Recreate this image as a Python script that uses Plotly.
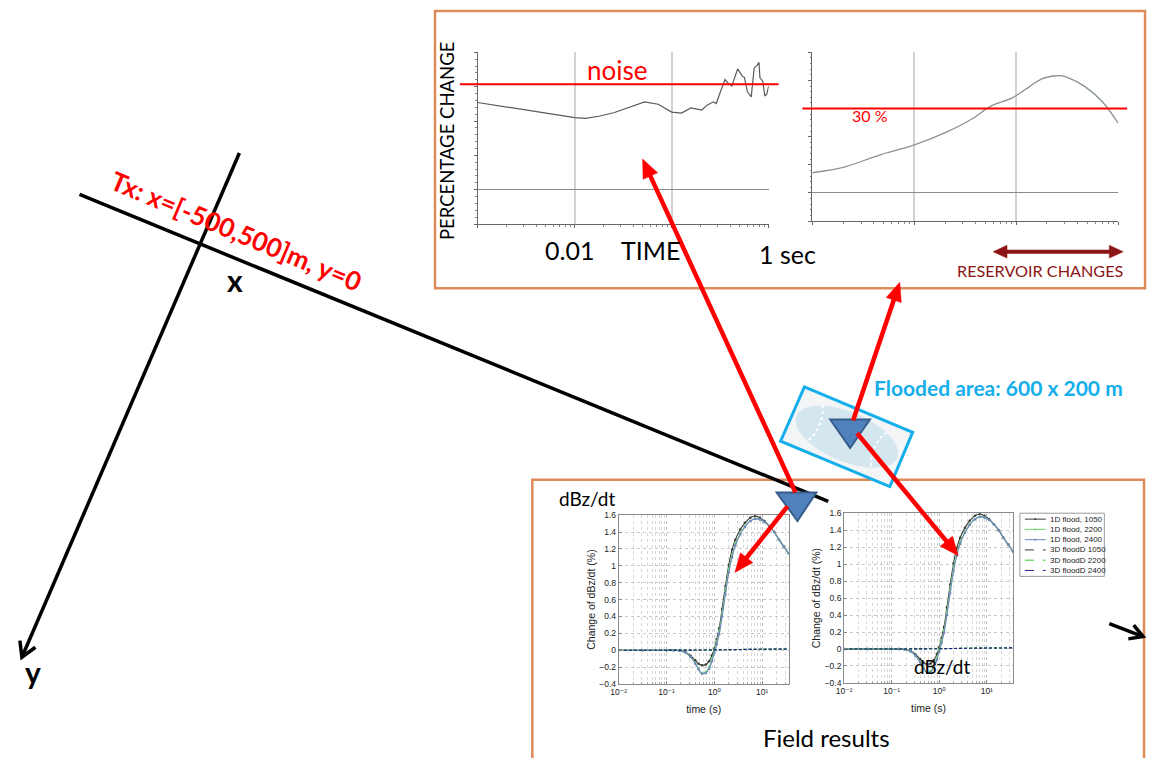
import numpy as np
import plotly.graph_objects as go

W, H = 1150, 758

# ---------------- data ----------------
# top-left panel: percentage change vs time (noise level reference)
pct_time = [0.001, 0.00178, 0.00309, 0.00562, 0.01, 0.0129, 0.0178, 0.0257, 0.0372, 0.0525,
            0.0724, 0.1, 0.126, 0.158, 0.204, 0.234, 0.269, 0.288, 0.316, 0.355,
            0.380, 0.417, 0.479, 0.537, 0.562, 0.603, 0.661, 0.708, 0.759, 0.794,
            0.813, 0.871, 0.912, 0.955, 1.0]
pct_change = [2.54, 2.43, 2.32, 2.20, 2.10, 2.08, 2.14, 2.25, 2.42, 2.56,
              2.49, 2.26, 2.23, 2.38, 2.32, 2.47, 2.56, 2.51, 2.83, 3.21,
              3.11, 3.02, 3.52, 3.30, 3.27, 2.86, 2.70, 3.54, 3.62, 3.71,
              3.26, 3.16, 2.73, 2.78, 3.02]
noise_level = 3.07

# top-right panel: reservoir change vs time
res_time = [0.001, 0.00209, 0.00447, 0.0102, 0.0214, 0.0363, 0.0562, 0.0912, 0.138, 0.178,
            0.234, 0.269, 0.316, 0.468, 0.692, 1.0]
res_change = [7.2, 9.3, 13.4, 17.2, 21.9, 26.2, 30.9, 33.8, 38.1, 40.6,
              41.6, 41.7, 41.1, 37.9, 32.6, 24.8]
threshold_pct = 30

# bottom panels: change of dBz/dt (%) vs time (s)
field_time = [0.01, 0.0316, 0.1, 0.141, 0.186, 0.251, 0.316, 0.398, 0.468, 0.55,
              0.661, 0.776, 0.891, 1.0, 1.12, 1.26, 1.45, 1.70, 2.0, 2.34,
              2.75, 3.47, 4.37, 5.62, 7.08, 8.91, 11.2, 14.1, 17.8, 22.4,
              28.2, 35.5]
flood1d_1050 = [0, 0, 0, 0, -0.004, -0.025, -0.065, -0.12, -0.16, -0.18,
                -0.17, -0.13, -0.06, 0.02, 0.13, 0.26, 0.49, 0.76, 1.01, 1.19,
                1.31, 1.43, 1.51, 1.57, 1.59, 1.57, 1.53, 1.47, 1.40, 1.31,
                1.23, 1.15]
flood1d_2200 = [0, 0, 0, 0, -0.005, -0.03, -0.08, -0.15, -0.22, -0.27,
                -0.26, -0.20, -0.10, -0.01, 0.10, 0.22, 0.44, 0.70, 0.96, 1.13,
                1.26, 1.38, 1.47, 1.53, 1.56, 1.55, 1.52, 1.47, 1.40, 1.31,
                1.23, 1.15]
flood1d_2400 = [0, 0, 0, 0, -0.005, -0.03, -0.08, -0.16, -0.23, -0.28,
                -0.27, -0.22, -0.13, -0.03, 0.07, 0.19, 0.40, 0.66, 0.92, 1.10,
                1.24, 1.37, 1.46, 1.53, 1.555, 1.55, 1.52, 1.47, 1.40, 1.31,
                1.23, 1.15]
field_time_3d = [0.01, 0.1, 0.3, 1, 3, 10, 35.5]
flood3d_1050 = [0, 0, 0.001, 0.004, 0.008, 0.012, 0.015]
flood3d_2200 = [0, 0, 0.001, 0.004, 0.008, 0.012, 0.014]
flood3d_2400 = [0, 0, 0.001, 0.003, 0.007, 0.011, 0.013]

series_names = ["1D flood, 1050", "1D flood, 2200", "1D flood, 2400",
                "3D floodD 1050", "3D floodD 2200", "3D floodD 2400"]
field_tickvals = [0.01, 0.1, 1, 10]
field_ticktext = ["10\u207b\u00b2", "10\u207b\u00b9", "10\u2070", "10\u00b9"]

# ---------------- helpers (pixel -> paper) ----------------
def X(p):
    return p / W

def Y(p):
    return 1 - p / H

def path_from(points, close=False):
    s = "M " + " L ".join(f"{X(a):.5f},{Y(b):.5f}" for a, b in points)
    return s + (" Z" if close else "")

def chevron(tail, tip, length=17, ang=30):
    t = np.array(tip, float)
    d = t - np.array(tail, float)
    d = d / np.linalg.norm(d)
    back = -d
    pts = []
    for s in (ang, -ang):
        r = np.radians(s)
        rot = np.array([back[0] * np.cos(r) - back[1] * np.sin(r),
                        back[0] * np.sin(r) + back[1] * np.cos(r)])
        pts.append(tuple(t + length * rot))
    return path_from([pts[0], tuple(t), pts[1]])

ORANGE = "#DE8B5A"
RED = "#FF0000"
DARKRED = "#8C1515"
CYAN = "#14AEEA"
SLIDE_FONT = "Lato"
PLOT_FONT = "Liberation Sans, Arial, DejaVu Sans"

fig = go.Figure()

# ---------------- traces ----------------
fig.add_trace(go.Scatter(x=pct_time, y=pct_change, xaxis="x", yaxis="y", mode="lines",
                         line=dict(color="#5a5a5a", width=1.2), hoverinfo="skip"))
fig.add_trace(go.Scatter(x=res_time, y=res_change, xaxis="x2", yaxis="y2", mode="lines",
                         line=dict(color="#8a9393", width=1.3, shape="spline"), hoverinfo="skip"))

styles = [
    (field_time, flood1d_1050, "#3a3a3a", "solid", True),
    (field_time, flood1d_2200, "#6fd86f", "solid", True),
    (field_time, flood1d_2400, "#6f86c0", "solid", True),
    (field_time_3d, flood3d_1050, "#3a3a3a", "3px,2px", False),
    (field_time_3d, flood3d_2200, "#33cc33", "3px,2px", False),
    (field_time_3d, flood3d_2400, "#1c1c8c", "3px,2px", False),
]
for xa, ya in (("x3", "y3"), ("x4", "y4")):
    for (tx, vals, col, dash, mk), name in zip(styles, series_names):
        fig.add_trace(go.Scatter(
            x=tx, y=vals, xaxis=xa, yaxis=ya, name=name,
            mode="lines+markers" if mk else "lines",
            line=dict(color=col, width=1.1, dash=dash, shape="spline"),
            marker=dict(size=2.5, color=col), hoverinfo="skip"))

# ---------------- axes ----------------
def top_x(dom):
    return dict(domain=dom, type="log", range=[-3, 0], dtick=1, showticklabels=False,
                showgrid=True, gridcolor="#d2d2d2", gridwidth=1.5, zeroline=False,
                showline=True, linecolor="#666", linewidth=1, ticks="outside", ticklen=3,
                tickcolor="#666", minor=dict(ticks="outside", ticklen=1.5, tickcolor="#888", dtick="D1"),
                fixedrange=True)

def top_y(dom, rng, dt):
    return dict(domain=dom, range=rng, dtick=dt, showticklabels=False, showgrid=False,
                zeroline=True, zerolinecolor="#8c8c8c", zerolinewidth=1.3,
                showline=True, linecolor="#666", linewidth=1, ticks="outside", ticklen=3,
                tickcolor="#666", minor=dict(ticks="outside", ticklen=1.5, tickcolor="#888", dtick=dt / 5),
                fixedrange=True)

minor_vals = [m * 10.0 ** e for e in (-2, -1, 0, 1) for m in range(2, 10) if m * 10.0 ** e < 40]

def bot_x(dom):
    return dict(domain=dom, type="log", range=[-2, 1.55], tickmode="array",
                tickvals=field_tickvals, ticktext=field_ticktext,
                tickfont=dict(family=PLOT_FONT, size=8.5, color="#222"),
                showline=True, mirror=True, linecolor="#8a8a8a", linewidth=1,
                ticks="inside", ticklen=3, tickcolor="#888",
                showgrid=True, gridcolor="#c4c4c4", griddash="dot", gridwidth=1,
                minor=dict(tickmode="array", tickvals=minor_vals, showgrid=True, gridcolor="#d8d8d8",
                           griddash="dot", gridwidth=1, ticks="inside", ticklen=2, tickcolor="#aaa"),
                zeroline=False, fixedrange=True,
                title=dict(text="time (s)", font=dict(family=PLOT_FONT, size=10.5, color="#222"), standoff=9))

def bot_y(dom):
    return dict(domain=dom, range=[-0.4, 1.6], dtick=0.2, tick0=0,
                tickfont=dict(family=PLOT_FONT, size=8.5, color="#222"),
                showline=True, mirror=True, linecolor="#8a8a8a", linewidth=1,
                ticks="inside", ticklen=3, tickcolor="#888",
                showgrid=True, gridcolor="#c8c8c8", griddash="dot", gridwidth=1,
                zeroline=False, fixedrange=True,
                title=dict(text="Change of dBz/dt (%)", font=dict(family=PLOT_FONT, size=10.5, color="#222"),
                           standoff=1))

layout = dict(
    width=W, height=H, margin=dict(l=0, r=0, t=0, b=0),
    paper_bgcolor="white", plot_bgcolor="white", showlegend=False,
    xaxis=top_x([X(473), X(766)]) | dict(anchor="y"),
    yaxis=top_y([Y(222), Y(48)], [-1, 4], 1) | dict(anchor="x"),
    xaxis2=top_x([X(810), X(1118)]) | dict(anchor="y2"),
    yaxis2=top_y([Y(219), Y(48)], [-10, 50], 10) | dict(anchor="x2"),
    xaxis3=bot_x([X(615), X(786)]) | dict(anchor="y3"),
    yaxis3=bot_y([Y(688), Y(517)]) | dict(anchor="x3"),
    xaxis4=bot_x([X(842), X(1012)]) | dict(anchor="y4"),
    yaxis4=bot_y([Y(687), Y(515)]) | dict(anchor="x4"),
)
fig.update_layout(**layout)

# ---------------- shapes ----------------
shapes = []

def arrow_shapes(tail, tip, color, width, head_len, head_w, both=False):
    t0 = np.array(tail, float)
    t1 = np.array(tip, float)
    u = (t1 - t0) / np.linalg.norm(t1 - t0)
    n = np.array([-u[1], u[0]])
    a = t0 + u * head_len * 0.8 if both else t0
    b = t1 - u * head_len * 0.8
    shapes.append(dict(type="path", xref="paper", yref="paper", path=path_from([tuple(a), tuple(b)]),
                       line=dict(color=color, width=width)))
    heads = [(t1, u)] + ([(t0, -u)] if both else [])
    for p, d in heads:
        base = p - d * head_len
        tri = [tuple(p), tuple(base + n * head_w / 2), tuple(base - n * head_w / 2)]
        shapes.append(dict(type="path", xref="paper", yref="paper", path=path_from(tri, close=True),
                           fillcolor=color, line=dict(color=color, width=0.5)))

# panel frames
shapes.append(dict(type="rect", xref="paper", yref="paper", x0=X(430), x1=X(1145), y0=Y(287), y1=Y(6),
                   line=dict(color=ORANGE, width=2.5)))
shapes.append(dict(type="rect", xref="paper", yref="paper", x0=X(528), x1=X(1144), y0=Y(800), y1=Y(481),
                   line=dict(color=ORANGE, width=2.5)))
# threshold lines
shapes.append(dict(type="line", xref="paper", yref="y", x0=X(455), x1=X(776), y0=noise_level, y1=noise_level,
                   line=dict(color=RED, width=2)))
shapes.append(dict(type="line", xref="paper", yref="y2", x0=X(800), x1=X(1127), y0=threshold_pct, y1=threshold_pct,
                   line=dict(color=RED, width=2)))
# coordinate axes sketch
shapes.append(dict(type="path", xref="paper", yref="paper", path=path_from([(72, 192), (826, 503)]),
                   line=dict(color="black", width=3.5)))
shapes.append(dict(type="path", xref="paper", yref="paper", path=path_from([(233, 150), (14, 661)]),
                   line=dict(color="black", width=3.5)))
shapes.append(dict(type="path", xref="paper", yref="paper", path=chevron((233, 150), (14, 661)),
                   line=dict(color="black", width=3.5)))
shapes.append(dict(type="path", xref="paper", yref="paper", path=path_from([(1109, 627), (1143, 640)]),
                   line=dict(color="black", width=3.5)))
shapes.append(dict(type="path", xref="paper", yref="paper", path=chevron((1109, 627), (1143, 640), length=15),
                   line=dict(color="black", width=3.5)))
# flooded area
corners = [(802, 387), (911, 433), (888, 488), (778, 442)]
shapes.append(dict(type="path", xref="paper", yref="paper", path=path_from(corners, close=True),
                   fillcolor="#F3F5F7", line=dict(color=CYAN, width=3)))
cx, cy = np.mean([c[0] for c in corners]), np.mean([c[1] for c in corners])
ang = np.arctan2(46, 109)
tt = np.linspace(0, 2 * np.pi, 60)
ex = cx + 55 * np.cos(tt) * np.cos(ang) - 25 * np.sin(tt) * np.sin(ang)
ey = cy + 55 * np.cos(tt) * np.sin(ang) + 25 * np.sin(tt) * np.cos(ang)
shapes.append(dict(type="path", xref="paper", yref="paper", path=path_from(list(zip(ex, ey)), close=True),
                   fillcolor="#D4E6EE", line=dict(width=0)))
# dotted white arcs inside the flooded ellipse
for side in (-1, 1):
    ts = np.linspace(-1.1, 1.1, 12)
    ax_ = cx + side * 40 * np.cos(ang) - 10 * np.cos(ts) * side * np.cos(ang) - 22 * np.sin(ts) * np.sin(ang)
    ay_ = cy + side * 40 * np.sin(ang) - 10 * np.cos(ts) * side * np.sin(ang) + 22 * np.sin(ts) * np.cos(ang)
    shapes.append(dict(type="path", xref="paper", yref="paper", path=path_from(list(zip(ax_, ay_))),
                       line=dict(color="white", width=2, dash="dot")))
# receivers (triangles)
for tri in ([(774, 494), (814, 494), (795, 523)], [(828, 420), (868, 420), (848, 449)]):
    shapes.append(dict(type="path", xref="paper", yref="paper", path=path_from(tri, close=True),
                       fillcolor="#4F81BD", line=dict(color="#385D8A", width=2)))

# red arrows and reservoir-change arrow
arrow_shapes((793, 494), (639, 156), RED, 4.5, 19, 16)
arrow_shapes((785, 508), (732, 575), RED, 4.5, 19, 16)
arrow_shapes((851, 421), (898, 281), RED, 4.5, 19, 16)
arrow_shapes((855, 434), (957, 558), RED, 4.5, 19, 16)
arrow_shapes((992, 250), (1123, 250), DARKRED, 4, 14, 13, both=True)

# legend box for bottom-right panel
shapes.append(dict(type="rect", xref="paper", yref="paper", x0=X(1019), x1=X(1104), y0=Y(579), y1=Y(515),
                   fillcolor="white", line=dict(color="#999", width=1)))
leg_y0, leg_dy = 521, 10.4
for i, ((tx, vals, col, dash, mk), name) in enumerate(zip(styles, series_names)):
    ly = leg_y0 + i * leg_dy
    shapes.append(dict(type="line", xref="paper", yref="paper", x0=X(1024), x1=X(1045), y0=Y(ly), y1=Y(ly),
                       line=dict(color=col, width=1, dash="dash" if dash != "solid" else "solid")))
    if mk:
        shapes.append(dict(type="circle", xref="paper", yref="paper", x0=X(1033.5), x1=X(1035.5),
                           y0=Y(ly + 1), y1=Y(ly - 1), fillcolor=col, line=dict(width=0)))
fig.update_layout(shapes=shapes)

# ---------------- annotations ----------------
ann = []
def txt(s, x, y, size, color="black", angle=0, bold=False, family=SLIDE_FONT, xanchor="center"):
    ann.append(dict(text=s, x=X(x), y=Y(y), xref="paper", yref="paper", showarrow=False,
                    xanchor=xanchor, yanchor="middle", textangle=angle,
                    font=dict(family=family, size=size, color=color, weight="bold" if bold else "normal")))

txt("noise", 613, 66, 26, RED)
txt("PERCENTAGE CHANGE", 442, 137, 18.5, angle=-90)
txt("0.01", 565, 248, 25)
txt("TIME", 647, 248, 25)
txt("1 sec", 785, 252, 25)
txt("30 %", 868, 112, 16, RED)
txt("RESERVOIR CHANGES", 1040, 269, 16.2, DARKRED)
txt("Flooded area: 600 x 200 m", 997, 388, 21, CYAN, bold=True)
txt("Tx: x=[-500,500]m, y=0", 230, 229, 26, RED, angle=22.7, bold=True)
txt("x", 229, 279, 30, bold=True)
txt("y", 25, 676, 30, bold=True)
txt("dBz/dt", 583, 500, 19)
txt("dBz/dt", 941, 670, 19)
txt("Field results", 824, 742, 24)
for i, name in enumerate(series_names):
    txt(name, 1047, leg_y0 + i * leg_dy, 8, "#222", family=PLOT_FONT, xanchor="left")

fig.update_layout(annotations=ann)
fig.write_html("out.html", config={"displayModeBar": False},
               post_script="document.body.style.margin='0';document.body.style.overflow='hidden';")
